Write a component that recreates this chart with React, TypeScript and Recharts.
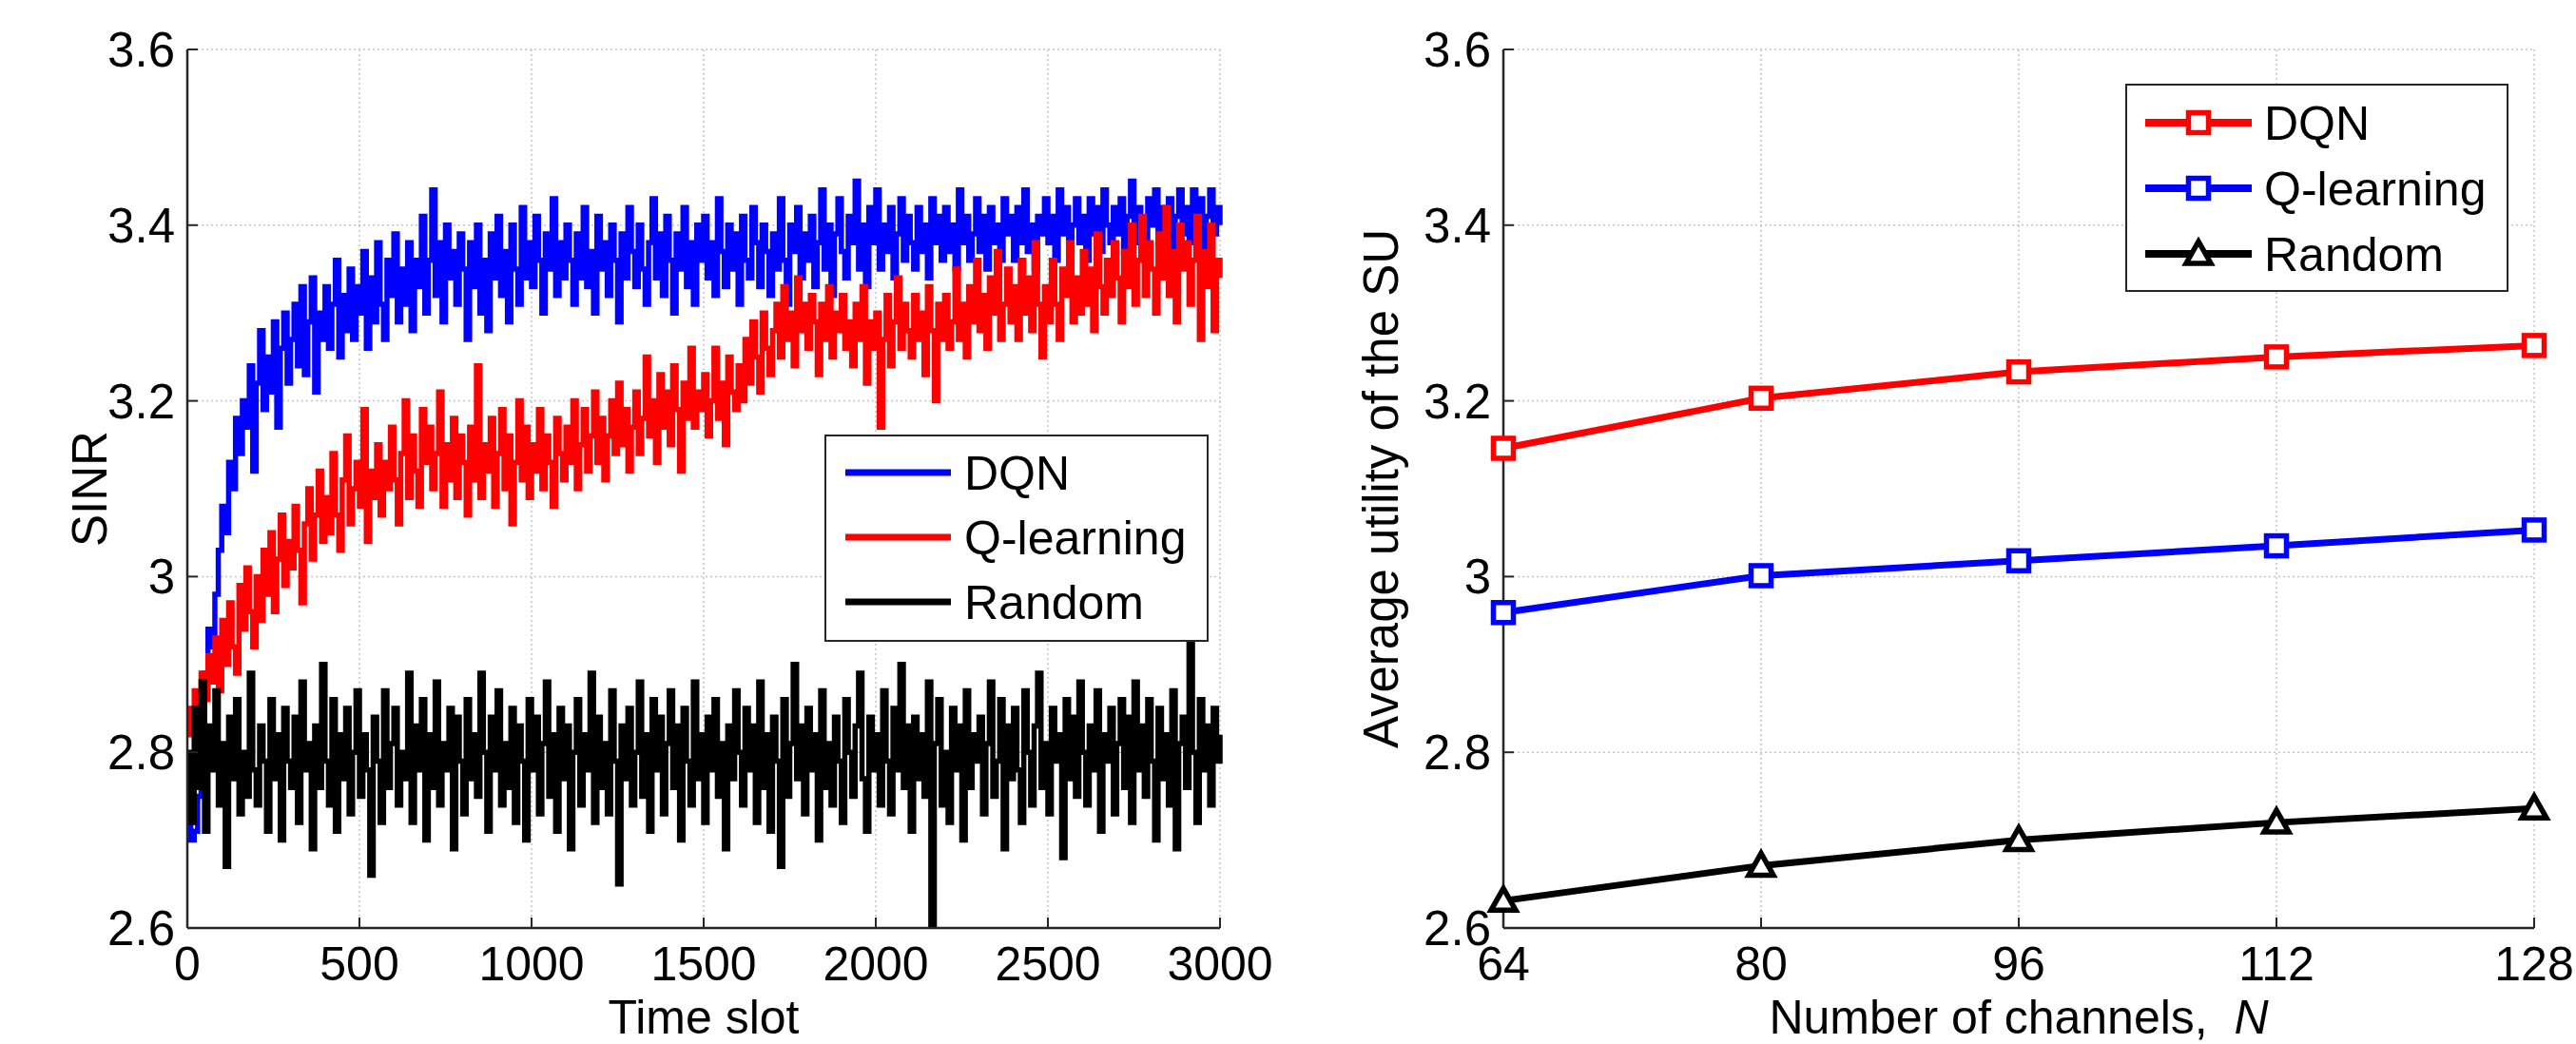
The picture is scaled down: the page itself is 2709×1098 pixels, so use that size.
import { LineChart, Line, XAxis, YAxis, CartesianGrid, Legend, Label } from "recharts";

const FONT = "'Liberation Sans', Arial, Helvetica, sans-serif";
const axisStroke = "#262626";
const gridStroke = "#c4c4c4";

// ---- left panel: SINR vs time slot (one sample every 10 slots)
const slotStep = 10;
const slotTicks = [0, 500, 1000, 1500, 2000, 2500, 3000];
const sinrTicks = [2.6, 2.8, 3, 3.2, 3.4, 3.6];

const dqnSinr = [
  2.72, 2.70, 2.71, 2.75, 2.83, 2.89, 2.94, 2.92, 2.98, 3.03,
  3.08, 3.05, 3.13, 3.10, 3.18, 3.14, 3.20, 3.17, 3.24, 3.12,
  3.22, 3.28, 3.19, 3.25, 3.21, 3.29, 3.17, 3.26, 3.30, 3.22,
  3.27, 3.31, 3.24, 3.33, 3.23, 3.29, 3.34, 3.21, 3.30, 3.27,
  3.33, 3.26, 3.31, 3.36, 3.25, 3.32, 3.28, 3.35, 3.27, 3.33,
  3.30, 3.37, 3.26, 3.34, 3.29, 3.38, 3.31, 3.27, 3.36, 3.32,
  3.39, 3.29, 3.35, 3.31, 3.38, 3.28, 3.36, 3.33, 3.41, 3.30,
  3.36, 3.44, 3.32, 3.38, 3.29, 3.40, 3.34, 3.37, 3.31, 3.39,
  3.35, 3.27, 3.38, 3.33, 3.40, 3.30, 3.36, 3.28, 3.39, 3.34,
  3.41, 3.32, 3.37, 3.29, 3.40, 3.35, 3.31, 3.42, 3.34, 3.38,
  3.33, 3.41, 3.36, 3.30, 3.39, 3.35, 3.43, 3.32, 3.38, 3.34,
  3.40, 3.36, 3.31, 3.39, 3.34, 3.42, 3.33, 3.37, 3.30, 3.41,
  3.35, 3.38, 3.32, 3.40, 3.36, 3.29, 3.39, 3.34, 3.42, 3.37,
  3.33, 3.40, 3.35, 3.31, 3.38, 3.43, 3.34, 3.39, 3.32, 3.41,
  3.36, 3.30, 3.39, 3.35, 3.42, 3.33, 3.38, 3.31, 3.40, 3.36,
  3.41, 3.34, 3.38, 3.32, 3.43, 3.37, 3.33, 3.40, 3.35, 3.39,
  3.31, 3.41, 3.36, 3.34, 3.42, 3.38, 3.33, 3.40, 3.37, 3.32,
  3.39, 3.35, 3.43, 3.36, 3.31, 3.40, 3.37, 3.42, 3.34, 3.39,
  3.36, 3.41, 3.33, 3.38, 3.44, 3.35, 3.40, 3.32, 3.39, 3.43,
  3.37, 3.34, 3.41, 3.38, 3.45, 3.35, 3.40, 3.33, 3.42, 3.38,
  3.44, 3.35, 3.40, 3.37, 3.42, 3.34, 3.39, 3.43, 3.36, 3.41,
  3.38, 3.35, 3.42, 3.37, 3.40, 3.34, 3.43, 3.38, 3.41, 3.36,
  3.42, 3.37, 3.40, 3.35, 3.44, 3.38, 3.41, 3.36, 3.39, 3.43,
  3.37, 3.41, 3.35, 3.42, 3.38, 3.40, 3.36, 3.43, 3.39, 3.41,
  3.36, 3.42, 3.38, 3.44, 3.37, 3.40, 3.35, 3.41, 3.39, 3.43,
  3.38, 3.41, 3.36, 3.44, 3.39, 3.42, 3.37, 3.40, 3.43, 3.38,
  3.41, 3.36, 3.43, 3.39, 3.42, 3.37, 3.44, 3.40, 3.38, 3.42,
  3.39, 3.43, 3.37, 3.41, 3.45, 3.38, 3.42, 3.40, 3.36, 3.43,
  3.40, 3.44, 3.38, 3.42, 3.39, 3.43, 3.37, 3.41, 3.44, 3.39,
  3.42, 3.38, 3.44, 3.40, 3.43, 3.37, 3.41, 3.44, 3.39, 3.42,
  3.40,
];

const qlSinr = [
  2.82, 2.85, 2.87, 2.84, 2.89, 2.86, 2.91, 2.88, 2.93, 2.87,
  2.95, 2.90, 2.97, 2.92, 2.89, 2.99, 2.94, 3.01, 2.96, 2.92,
  3.00, 2.95, 3.03, 2.98, 3.05, 2.96, 3.02, 3.07, 2.99, 3.04,
  3.01, 3.08, 3.03, 2.97, 3.06, 3.10, 3.02, 3.07, 3.12, 3.04,
  3.09, 3.05, 3.14, 3.07, 3.03, 3.11, 3.16, 3.06, 3.10, 3.13,
  3.08, 3.19, 3.04, 3.12, 3.09, 3.15, 3.07, 3.13, 3.10, 3.17,
  3.11, 3.06, 3.14, 3.20, 3.09, 3.16, 3.12, 3.08, 3.19, 3.13,
  3.17, 3.10, 3.14, 3.21, 3.08, 3.15, 3.11, 3.18, 3.09, 3.16,
  3.13, 3.07, 3.17, 3.11, 3.24, 3.09, 3.15, 3.12, 3.18, 3.08,
  3.14, 3.19, 3.10, 3.16, 3.06, 3.13, 3.20, 3.11, 3.17, 3.09,
  3.15, 3.12, 3.19, 3.10, 3.16, 3.13, 3.08, 3.18, 3.14, 3.11,
  3.17, 3.13, 3.20, 3.10, 3.15, 3.19, 3.12, 3.16, 3.21, 3.13,
  3.18, 3.11, 3.16, 3.20, 3.14, 3.22, 3.15, 3.19, 3.12, 3.17,
  3.21, 3.14, 3.18, 3.25, 3.16, 3.20, 3.13, 3.23, 3.17, 3.21,
  3.15, 3.24, 3.19, 3.12, 3.22, 3.18, 3.26, 3.17, 3.21, 3.19,
  3.23, 3.16, 3.20, 3.26, 3.18, 3.22, 3.15, 3.25, 3.21, 3.19,
  3.24, 3.20, 3.27, 3.22, 3.29, 3.25, 3.21, 3.30, 3.26, 3.23,
  3.28, 3.31, 3.25, 3.33, 3.27, 3.30, 3.24, 3.34, 3.28, 3.31,
  3.26, 3.32, 3.29, 3.23, 3.31, 3.27, 3.33, 3.25, 3.30, 3.28,
  3.32, 3.26, 3.29, 3.24, 3.31, 3.27, 3.33, 3.22, 3.29, 3.26,
  3.30, 3.17, 3.27, 3.32, 3.24, 3.29, 3.34, 3.26, 3.31, 3.28,
  3.25, 3.32, 3.27, 3.30, 3.23, 3.33, 3.28, 3.20, 3.31, 3.27,
  3.32, 3.26, 3.29, 3.35, 3.27, 3.31, 3.25, 3.33, 3.29, 3.36,
  3.28, 3.32, 3.26, 3.34, 3.30, 3.37, 3.27, 3.31, 3.35, 3.29,
  3.33, 3.27, 3.36, 3.30, 3.34, 3.28, 3.38, 3.31, 3.25, 3.33,
  3.29, 3.36, 3.31, 3.27, 3.35, 3.32, 3.38, 3.29, 3.34, 3.30,
  3.37, 3.31, 3.35, 3.28, 3.39, 3.33, 3.30, 3.36, 3.32, 3.38,
  3.34, 3.29, 3.37, 3.33, 3.40, 3.31, 3.36, 3.41, 3.32, 3.38,
  3.35, 3.30, 3.39, 3.34, 3.42, 3.32, 3.37, 3.29, 3.40, 3.35,
  3.38, 3.31, 3.36, 3.41, 3.27, 3.37, 3.33, 3.40, 3.28, 3.36,
  3.34,
];

const randomSinr = [
  2.80, 2.72, 2.85, 2.76, 2.88, 2.71, 2.83, 2.78, 2.87, 2.74,
  2.81, 2.67, 2.84, 2.77, 2.86, 2.73, 2.80, 2.75, 2.89, 2.78,
  2.74, 2.83, 2.79, 2.71, 2.86, 2.77, 2.82, 2.70, 2.85, 2.79,
  2.76, 2.84, 2.72, 2.88, 2.78, 2.81, 2.69, 2.83, 2.76, 2.90,
  2.79, 2.74, 2.86, 2.71, 2.82, 2.77, 2.85, 2.73, 2.80, 2.87,
  2.75, 2.82, 2.78, 2.66, 2.84, 2.79, 2.72, 2.87, 2.76, 2.81,
  2.85, 2.74, 2.80, 2.77, 2.89, 2.72, 2.83, 2.78, 2.86, 2.70,
  2.82, 2.76, 2.88, 2.74, 2.81, 2.78, 2.85, 2.69, 2.84, 2.79,
  2.73, 2.86, 2.77, 2.82, 2.75, 2.89, 2.80, 2.71, 2.84, 2.78,
  2.87, 2.74, 2.81, 2.76, 2.85, 2.72, 2.83, 2.79, 2.70, 2.86,
  2.78, 2.84, 2.73, 2.81, 2.88, 2.75, 2.82, 2.71, 2.85, 2.77,
  2.83, 2.69, 2.80, 2.86, 2.74, 2.82, 2.78, 2.89, 2.72, 2.84,
  2.76, 2.81, 2.73, 2.87, 2.79, 2.65, 2.83, 2.77, 2.85, 2.74,
  2.80, 2.88, 2.75, 2.82, 2.71, 2.86, 2.78, 2.84, 2.73, 2.81,
  2.87, 2.76, 2.83, 2.70, 2.85, 2.79, 2.74, 2.88, 2.77, 2.82,
  2.72, 2.84, 2.78, 2.86, 2.75, 2.81, 2.69, 2.83, 2.77, 2.87,
  2.80, 2.74, 2.85, 2.78, 2.83, 2.72, 2.88, 2.76, 2.82, 2.71,
  2.84, 2.79, 2.67, 2.86, 2.75, 2.81, 2.90, 2.77, 2.83, 2.73,
  2.85, 2.78, 2.82, 2.70, 2.87, 2.76, 2.81, 2.74, 2.84, 2.79,
  2.72, 2.86, 2.80, 2.75, 2.83, 2.89, 2.77, 2.71, 2.84, 2.78,
  2.82, 2.74, 2.87, 2.79, 2.73, 2.85, 2.78, 2.90, 2.76, 2.83,
  2.71, 2.84, 2.77, 2.82, 2.75, 2.88, 2.60, 2.81, 2.86, 2.74,
  2.80, 2.72, 2.85, 2.78, 2.83, 2.70, 2.87, 2.76, 2.82, 2.79,
  2.84, 2.73, 2.81, 2.88, 2.75, 2.79, 2.86, 2.69, 2.83, 2.77,
  2.85, 2.78, 2.72, 2.87, 2.80, 2.74, 2.83, 2.89, 2.76, 2.81,
  2.73, 2.85, 2.79, 2.82, 2.68, 2.86, 2.77, 2.84, 2.75, 2.88,
  2.80, 2.74, 2.83, 2.78, 2.87, 2.71, 2.82, 2.79, 2.85, 2.73,
  2.81, 2.86, 2.76, 2.84, 2.72, 2.88, 2.78, 2.83, 2.75, 2.86,
  2.79, 2.70, 2.85, 2.77, 2.82, 2.74, 2.87, 2.69, 2.81, 2.84,
  2.76, 2.93, 2.80, 2.72, 2.86, 2.78, 2.83, 2.74, 2.85, 2.79,
  2.82,
];

// ---- right panel: average utility vs number of channels
const channelCounts = [64, 80, 96, 112, 128];
const dqnUtility = [3.146, 3.203, 3.233, 3.25, 3.263];
const qlUtility = [2.959, 3.001, 3.018, 3.035, 3.053];
const randomUtility = [2.631, 2.671, 2.7, 2.72, 2.736];

const sinrData = dqnSinr.map((v, i) => ({
  t: i * slotStep,
  dqn: v,
  ql: qlSinr[i],
  rnd: randomSinr[i],
}));

const utilityData = channelCounts.map((n, i) => ({
  n,
  dqn: dqnUtility[i],
  ql: qlUtility[i],
  rnd: randomUtility[i],
}));

// MATLAB style ticks: pointing into the box, labels outside
function BottomTick(props: any) {
  const { x, y, payload } = props;
  return (
    <g>
      <line x1={x} y1={y} x2={x} y2={y - 11} stroke={axisStroke} strokeWidth={2} />
      <text x={x} y={y + 55} textAnchor="middle" fontSize={50} fontFamily={FONT} fill="#000">
        {payload.value}
      </text>
    </g>
  );
}

function LeftTick(props: any) {
  const { x, y, payload } = props;
  return (
    <g>
      <line x1={x} y1={y} x2={x + 11} y2={y} stroke={axisStroke} strokeWidth={2} />
      <text x={x - 13} y={y + 18} textAnchor="end" fontSize={51} fontFamily={FONT} fill="#000">
        {payload.value}
      </text>
    </g>
  );
}

function TopTick(props: any) {
  const { x, y } = props;
  return <line x1={x} y1={y} x2={x} y2={y + 11} stroke={axisStroke} strokeWidth={2} />;
}

function RightTick(props: any) {
  const { x, y } = props;
  return <line x1={x} y1={y} x2={x - 11} y2={y} stroke={axisStroke} strokeWidth={2} />;
}

function SquareDot(props: any) {
  const { cx, cy, stroke } = props;
  return (
    <rect x={cx - 10.5} y={cy - 10.5} width={21} height={21} fill="#fff" stroke={stroke} strokeWidth={5.5} />
  );
}

function TriangleDot(props: any) {
  const { cx, cy, stroke } = props;
  return (
    <path
      d={`M${cx},${cy - 13} L${cx + 13},${cy + 10} L${cx - 13},${cy + 10} Z`}
      fill="#fff"
      stroke={stroke}
      strokeWidth={5.5}
      strokeLinejoin="miter"
    />
  );
}

function LegendBox({
  payload,
  width,
  height,
  rowY,
  lineX,
  textX,
  lineWidth,
  markers,
}: any) {
  return (
    <svg width={width} height={height} style={{ display: "block" }}>
      <rect x={1} y={1} width={width - 2} height={height - 2} fill="#fff" stroke={axisStroke} strokeWidth={2} />
      {(payload || []).map((p: any, i: number) => {
        const y = rowY[i];
        const mx = (lineX[0] + lineX[1]) / 2;
        return (
          <g key={p.value}>
            <line x1={lineX[0]} y1={y} x2={lineX[1]} y2={y} stroke={p.color} strokeWidth={lineWidth} />
            {markers && markers[i] === "square" && <SquareDot cx={mx} cy={y} stroke={p.color} />}
            {markers && markers[i] === "triangle" && <TriangleDot cx={mx} cy={y} stroke={p.color} />}
            <text x={textX} y={y + 18} fontSize={50} fontFamily={FONT} fill="#000">
              {p.value}
            </text>
          </g>
        );
      })}
    </svg>
  );
}

export default function App() {
  return (
    <div style={{ position: "absolute", left: 0, top: 0, width: 2709, height: 1098, background: "#fff" }}>
      {/* Left: SINR over time slots */}
      <div style={{ position: "absolute", left: 0, top: 0 }}>
        <LineChart width={1380} height={1098} data={sinrData} margin={{ top: 52, right: 97, bottom: 0, left: 0 }}>
          <CartesianGrid stroke={gridStroke} strokeDasharray="2 3" strokeWidth={1.5} />
          <XAxis
            dataKey="t"
            type="number"
            domain={[0, 3000]}
            ticks={slotTicks}
            interval={0}
            height={122}
            tickSize={0}
            tickMargin={0}
            tickLine={false}
            tick={<BottomTick />}
            axisLine={{ stroke: axisStroke, strokeWidth: 2.5 }}
          >
            <Label
              content={(p: any) => (
                <text
                  x={p.viewBox.x + p.viewBox.width / 2}
                  y={p.viewBox.y + 111}
                  textAnchor="middle"
                  fontSize={50}
                  fontFamily={FONT}
                  fill="#000"
                >
                  Time slot
                </text>
              )}
            />
          </XAxis>
          <XAxis
            xAxisId="top"
            orientation="top"
            type="number"
            domain={[0, 3000]}
            ticks={slotTicks}
            interval={0}
            height={0}
            tickSize={0}
            tickMargin={0}
            tickLine={false}
            tick={<TopTick />}
            axisLine={{ stroke: axisStroke, strokeWidth: 2.5 }}
          />
          <YAxis
            type="number"
            domain={[2.6, 3.6]}
            ticks={sinrTicks}
            interval={0}
            width={197}
            allowDataOverflow
            tickSize={0}
            tickMargin={0}
            tickLine={false}
            tick={<LeftTick />}
            axisLine={{ stroke: axisStroke, strokeWidth: 2.5 }}
          >
            <Label
              content={(p: any) => {
                const cx = p.viewBox.x + 112;
                const cy = p.viewBox.y + p.viewBox.height / 2;
                return (
                  <text
                    x={cx}
                    y={cy}
                    transform={`rotate(-90 ${cx} ${cy})`}
                    textAnchor="middle"
                    fontSize={51}
                    fontFamily={FONT}
                    fill="#000"
                  >
                    SINR
                  </text>
                );
              }}
            />
          </YAxis>
          <YAxis
            yAxisId="right"
            orientation="right"
            type="number"
            domain={[2.6, 3.6]}
            ticks={sinrTicks}
            interval={0}
            width={0}
            tickSize={0}
            tickMargin={0}
            tickLine={false}
            tick={<RightTick />}
            axisLine={{ stroke: axisStroke, strokeWidth: 2.5 }}
          />
          <Line name="DQN" dataKey="dqn" type="stepAfter" stroke="#0000ff" strokeWidth={5.5} dot={false} isAnimationActive={false} />
          <Line name="Q-learning" dataKey="ql" type="stepAfter" stroke="#ff0000" strokeWidth={5.5} dot={false} isAnimationActive={false} />
          <Line name="Random" dataKey="rnd" type="stepAfter" stroke="#000000" strokeWidth={5.5} dot={false} isAnimationActive={false} />
          <Legend
            layout="vertical"
            align="center"
            verticalAlign="middle"
            wrapperStyle={{ left: 867, top: 457, width: 404, height: 218 }}
            content={(p: any) => (
              <LegendBox
                payload={p.payload}
                width={404}
                height={218}
                rowY={[40, 108, 176]}
                lineX={[22, 133]}
                textX={147}
                lineWidth={7}
              />
            )}
          />
        </LineChart>
      </div>

      {/* Right: average utility vs number of channels */}
      <div style={{ position: "absolute", left: 1380, top: 0 }}>
        <LineChart width={1329} height={1098} data={utilityData} margin={{ top: 52, right: 44, bottom: 0, left: 0 }}>
          <CartesianGrid stroke={gridStroke} strokeDasharray="2 3" strokeWidth={1.5} />
          <XAxis
            dataKey="n"
            type="number"
            domain={[64, 128]}
            ticks={channelCounts}
            interval={0}
            height={122}
            tickSize={0}
            tickMargin={0}
            tickLine={false}
            tick={<BottomTick />}
            axisLine={{ stroke: axisStroke, strokeWidth: 2.5 }}
          >
            <Label
              content={(p: any) => (
                <text
                  x={p.viewBox.x + p.viewBox.width / 2}
                  y={p.viewBox.y + 111}
                  textAnchor="middle"
                  fontSize={50}
                  fontFamily={FONT}
                  fill="#000"
                >
                  {"Number of channels,\u00a0 "}
                  <tspan fontStyle="italic">N</tspan>
                </text>
              )}
            />
          </XAxis>
          <XAxis
            xAxisId="top"
            orientation="top"
            type="number"
            domain={[64, 128]}
            ticks={channelCounts}
            interval={0}
            height={0}
            tickSize={0}
            tickMargin={0}
            tickLine={false}
            tick={<TopTick />}
            axisLine={{ stroke: axisStroke, strokeWidth: 2.5 }}
          />
          <YAxis
            type="number"
            domain={[2.6, 3.6]}
            ticks={sinrTicks}
            interval={0}
            width={201}
            tickSize={0}
            tickMargin={0}
            tickLine={false}
            tick={<LeftTick />}
            axisLine={{ stroke: axisStroke, strokeWidth: 2.5 }}
          >
            <Label
              content={(p: any) => {
                const cx = p.viewBox.x + 90;
                const cy = p.viewBox.y + p.viewBox.height / 2;
                return (
                  <text
                    x={cx}
                    y={cy}
                    transform={`rotate(-90 ${cx} ${cy})`}
                    textAnchor="middle"
                    fontSize={51}
                    fontFamily={FONT}
                    fill="#000"
                  >
                    Average utility of the SU
                  </text>
                );
              }}
            />
          </YAxis>
          <YAxis
            yAxisId="right"
            orientation="right"
            type="number"
            domain={[2.6, 3.6]}
            ticks={sinrTicks}
            interval={0}
            width={0}
            tickSize={0}
            tickMargin={0}
            tickLine={false}
            tick={<RightTick />}
            axisLine={{ stroke: axisStroke, strokeWidth: 2.5 }}
          />
          <Line name="DQN" dataKey="dqn" type="linear" stroke="#ff0000" strokeWidth={7} dot={<SquareDot />} isAnimationActive={false} />
          <Line name="Q-learning" dataKey="ql" type="linear" stroke="#0000ff" strokeWidth={7} dot={<SquareDot />} isAnimationActive={false} />
          <Line name="Random" dataKey="rnd" type="linear" stroke="#000000" strokeWidth={7} dot={<TriangleDot />} isAnimationActive={false} />
          <Legend
            layout="vertical"
            align="center"
            verticalAlign="middle"
            wrapperStyle={{ left: 855, top: 88, width: 403, height: 219 }}
            content={(p: any) => (
              <LegendBox
                payload={p.payload}
                width={403}
                height={219}
                rowY={[41, 110, 179]}
                lineX={[21, 133]}
                textX={146}
                lineWidth={8}
                markers={["square", "square", "triangle"]}
              />
            )}
          />
        </LineChart>
      </div>
    </div>
  );
}
